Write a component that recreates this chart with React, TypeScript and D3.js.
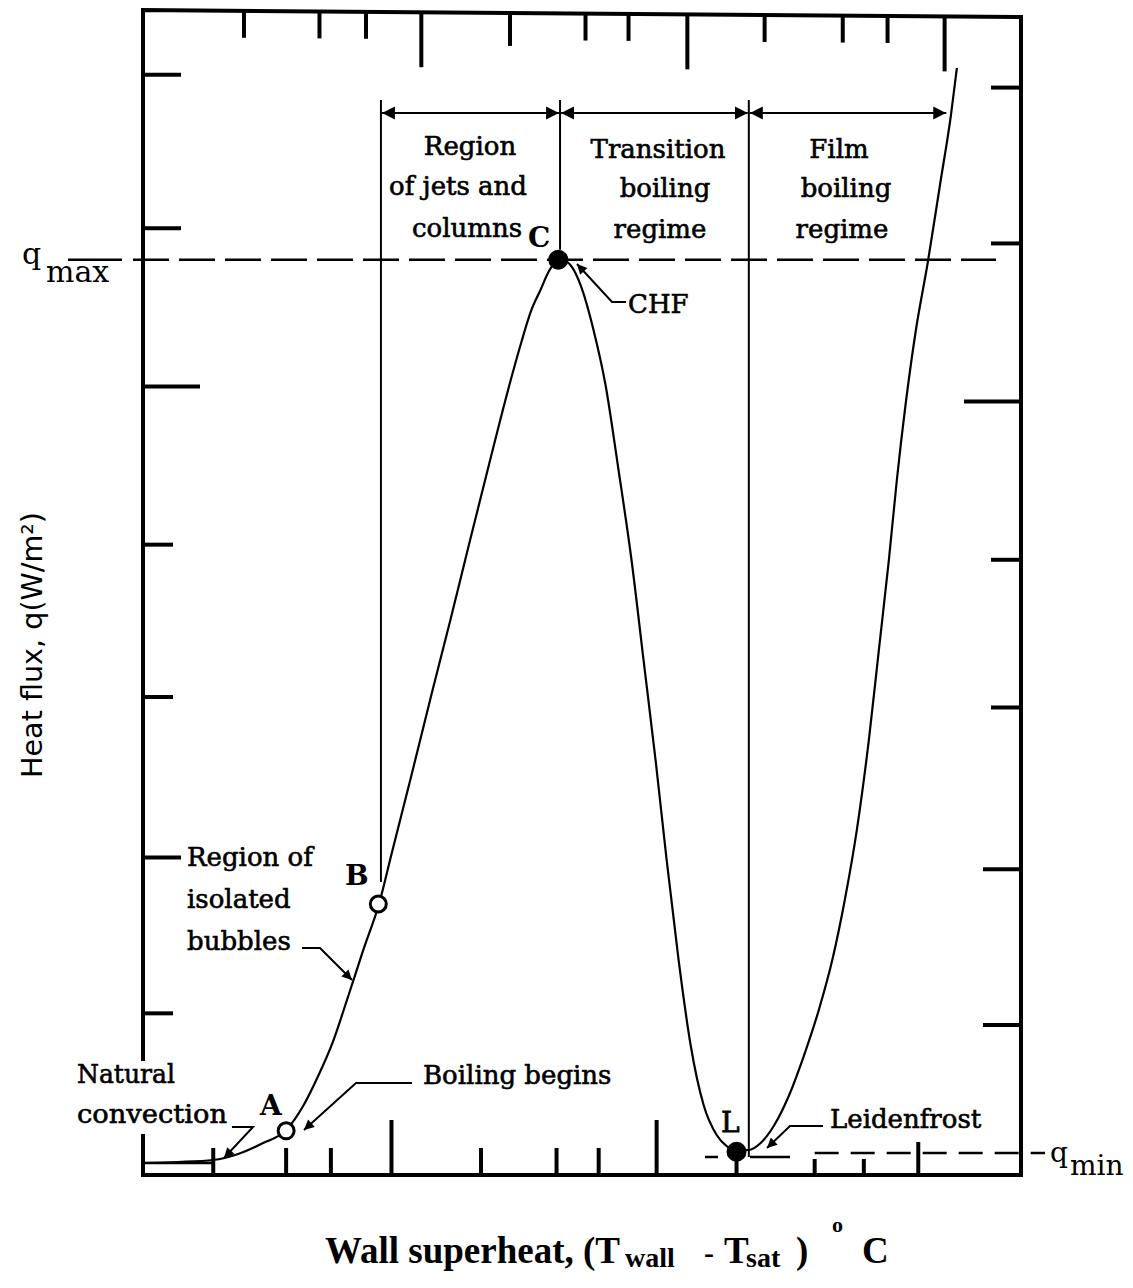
import React from 'react';
import * as d3 from 'd3';

// ---- data (x: wall superheat, arbitrary 0-100; y: heat flux, arbitrary 0-100) ----
const curveX = [0, 3.99, 7.98, 10.83, 13.68, 16.31, 18.24, 19.95, 21.66, 23.38, 25.09, 26.91, 28.28, 30.44, 32.84, 35.01, 37.17, 39.68, 41.73, 43.10, 44.24, 45.27, 46.18, 46.87, 47.43, 48.12, 48.92, 49.83, 51.31, 52.68, 54.16, 55.64, 57.01, 58.38, 59.64, 61.00, 62.37, 63.85, 65.34, 66.48, 67.50, 68.99, 70.35, 71.84, 73.55, 75.26, 76.97, 78.56, 79.93, 81.30, 82.67, 83.81, 84.95, 85.86, 86.89, 88.03, 89.39, 90.77, 92.02, 92.70];
const curveY = [1.03, 1.12, 1.29, 1.81, 2.75, 3.87, 5.93, 8.51, 11.52, 15.39, 19.35, 23.39, 27.52, 33.96, 41.27, 47.72, 54.34, 61.91, 67.93, 71.63, 74.38, 76.10, 77.64, 78.42, 78.68, 78.59, 77.99, 76.53, 72.66, 67.93, 60.62, 52.88, 44.28, 35.68, 27.09, 18.49, 11.18, 6.02, 3.44, 2.49, 2.15, 2.15, 2.75, 4.21, 6.79, 10.23, 14.19, 18.66, 23.65, 29.66, 37.40, 45.14, 52.88, 59.76, 66.47, 72.66, 78.50, 85.12, 91.14, 95.19];

const pointLabels = ['A', 'B', 'C', 'L'];
const pointX = [16.3, 26.8, 47.3, 67.6];
const pointY = [3.8, 23.3, 78.7, 2.0];
const pointFilled = [false, false, true, true];

const regionBounds = [27.1, 47.5, 69.0, 91.6];
const qMax = 78.7;
const qMin = 1.72;

const topTicks = [11.5, 20.1, 25.4, 31.7, 41.8, 50.4, 55.3, 62.0, 70.8, 79.7, 84.8, 91.3];
const topTickKinds = ['s', 's', 's', 'l', 'm', 's', 's', 'l', 's', 's', 's', 'l'];
const bottomTicks = [8.0, 16.3, 21.4, 28.3, 38.5, 47.1, 51.9, 58.5, 67.6, 76.5, 82.1, 88.3];
const bottomTickKinds = ['s', 's', 's', 'l', 's', 's', 's', 'l', 's', 'x', 'x', 'm'];
const leftTicks = [94.6, 81.4, 67.8, 54.2, 41.1, 27.3, 13.9];
const leftTickKinds = ['m', 'm', 'l', 's', 's', 'm', 's'];
const rightTicks = [93.5, 80.1, 66.5, 52.9, 40.2, 26.3, 12.9];
const rightTickKinds = ['s', 's', 'l', 's', 's', 'm', 'm'];

const X0 = 143, X1 = 1021, Y0 = 1175, Y1 = 12;

export default function App() {
  const x = d3.scaleLinear().domain([0, 100]).range([X0, X1]);
  const y = d3.scaleLinear().domain([0, 100]).range([Y0, Y1]);
  const pts: [number, number][] = curveX.map((v, i) => [v, curveY[i]]);
  const line = d3.line<[number, number]>().x(d => x(d[0])).y(d => y(d[1])).curve(d3.curveMonotoneX);
  const tickLen: Record<string, number> = { s: 27, m: 33, l: 55, x: 16 };
  const hLen: Record<string, number> = { s: 30, m: 38, l: 57, x: 16 };
  const serif = '"DejaVu Serif", serif';
  const bold = '"Liberation Serif", "Times New Roman", serif';
  const arrowY = 113;
  const topY = (px: number) => 10 + 7 * (px - X0) / (X1 - X0);

  return (
    <svg width={1133} height={1288} style={{ position: 'absolute', left: 0, top: 0, background: '#fff' }}>
      <defs>
        <marker id="ah" viewBox="0 0 10 10" refX="10" refY="5" markerWidth="13" markerHeight="15" markerUnits="userSpaceOnUse" orient="auto-start-reverse">
          <path d="M0,0 L10,5 L0,10 Z" fill="#000" />
        </marker>
        <marker id="la" viewBox="0 0 10 10" refX="10" refY="5" markerWidth="12" markerHeight="10" markerUnits="userSpaceOnUse" orient="auto">
          <path d="M0,0 L10,5 L0,10 Z" fill="#000" />
        </marker>
      </defs>
      <rect x={0} y={0} width={1133} height={1288} fill="#fff" />

      {/* frame */}
      <g stroke="#000" strokeWidth={4} fill="none">
        <path d={`M${X0},1061 L${X0},10 L${X1},17 L${X1},${Y0} L${X0},${Y0} L${X0},1134`} />
      </g>

      {/* ticks */}
      <g stroke="#000" strokeWidth={4}>
        {topTicks.map((t, i) => (
          <line key={'t' + i} x1={x(t)} x2={x(t)} y1={topY(x(t))} y2={topY(x(t)) + tickLen[topTickKinds[i]]} />
        ))}
        {bottomTicks.map((t, i) => (
          <line key={'b' + i} x1={x(t)} x2={x(t)} y1={Y0} y2={Y0 - tickLen[bottomTickKinds[i]]} />
        ))}
        {leftTicks.map((t, i) => (
          <line key={'l' + i} x1={X0} x2={X0 + hLen[leftTickKinds[i]]} y1={y(t)} y2={y(t)} />
        ))}
        {rightTicks.map((t, i) => (
          <line key={'r' + i} x1={X1} x2={X1 - hLen[rightTickKinds[i]]} y1={y(t)} y2={y(t)} />
        ))}
      </g>

      {/* natural convection baseline segment */}
      <line x1={X0} x2={x(8.0)} y1={y(curveY[0])} y2={y(curveY[0])} stroke="#000" strokeWidth={2.5} />

      {/* q max / q min dashed lines */}
      <line x1={68} x2={122} y1={y(qMax)} y2={y(qMax)} stroke="#000" strokeWidth={2.5} />
      <line x1={133} x2={996} y1={y(qMax)} y2={y(qMax)} stroke="#000" strokeWidth={2.5} strokeDasharray="36 10" />
      <line x1={705} x2={718} y1={y(qMin) + 2} y2={y(qMin) + 2} stroke="#000" strokeWidth={2.5} />
      <line x1={750} x2={790} y1={y(qMin) + 2} y2={y(qMin) + 2} stroke="#000" strokeWidth={2.5} />
      <line x1={x(76.5)} x2={1045} y1={y(qMin) - 2} y2={y(qMin) - 2} stroke="#000" strokeWidth={2.5} strokeDasharray="24 12" />

      {/* region separators */}
      <g stroke="#000" strokeWidth={2}>
        <line x1={x(regionBounds[0])} x2={x(regionBounds[0])} y1={100} y2={y(pointY[1]) - 22} />
        <line x1={x(regionBounds[1])} x2={x(regionBounds[1])} y1={100} y2={y(qMax) - 10} />
        <line x1={x(regionBounds[2])} x2={x(regionBounds[2])} y1={100} y2={y(qMin) + 2} />
      </g>
      <g stroke="#000" strokeWidth={2}>
        {[0, 1, 2].map(i => (
          <line key={'ra' + i} x1={x(regionBounds[i]) + 1} x2={x(regionBounds[i + 1]) - 1} y1={arrowY} y2={arrowY} markerStart="url(#ah)" markerEnd="url(#ah)" />
        ))}
      </g>

      {/* boiling curve */}
      <path d={line(pts) || ''} fill="none" stroke="#000" strokeWidth={2.2} />
      {/* L stem */}
      <line x1={x(pointX[3])} x2={x(pointX[3])} y1={y(pointY[3])} y2={Y0} stroke="#000" strokeWidth={3} />

      {/* points */}
      {pointX.map((px, i) => (
        <circle key={'p' + i} cx={x(px)} cy={y(pointY[i])} r={pointFilled[i] ? 8.5 : 8} fill={pointFilled[i] ? '#000' : '#fff'} stroke="#000" strokeWidth={3} />
      ))}

      {/* leaders */}
      <g stroke="#000" strokeWidth={2} fill="none">
        <polyline points="232,1127 253,1127 224,1158" markerEnd="url(#la)" />
        <polyline points="412,1083 356,1083 304,1130" markerEnd="url(#la)" />
        <polyline points="302,948 320,948 352,980" markerEnd="url(#la)" />
        <polyline points="626,302 612,302 577,264" markerEnd="url(#la)" />
        <polyline points="823,1126 790,1126 767,1148" markerEnd="url(#la)" />
      </g>

      {/* region labels */}
      <g fontFamily={serif} fontSize={26} fill="#000" stroke="#000" strokeWidth={0.6} textAnchor="middle">
        <text x={470} y={155}>Region</text>
        <text x={458} y={195}>of jets and</text>
        <text x={467} y={237}>columns</text>
        <text x={658} y={158}>Transition</text>
        <text x={665} y={197}>boiling</text>
        <text x={660} y={238}>regime</text>
        <text x={839} y={158}>Film</text>
        <text x={846} y={197}>boiling</text>
        <text x={842} y={238}>regime</text>
      </g>

      {/* point letters */}
      <g fontFamily={serif} fontSize={28} fill="#000" fontWeight="bold">
        <text x={528} y={247}>{pointLabels[2]}</text>
        <text x={345} y={885}>{pointLabels[1]}</text>
        <text x={260} y={1115}>{pointLabels[0]}</text>
        <text x={721} y={1132} fontWeight="normal" stroke="#000" strokeWidth={0.8}>{pointLabels[3]}</text>
      </g>

      {/* annotations */}
      <g fontFamily={serif} fontSize={26} fill="#000" stroke="#000" strokeWidth={0.6}>
        <text x={628} y={313}>CHF</text>
        <text x={187} y={866}>Region of</text>
        <text x={187} y={908}>isolated</text>
        <text x={187} y={950}>bubbles</text>
        <text x={77} y={1083} textLength={98} lengthAdjust="spacingAndGlyphs">Natural</text>
        <text x={77} y={1123} textLength={150} lengthAdjust="spacingAndGlyphs">convection</text>
        <text x={423} y={1084}>Boiling begins</text>
        <text x={830} y={1128}>Leidenfrost</text>
      </g>

      {/* q max / q min labels */}
      <g fontFamily={serif} fill="#000">
        <text x={22} y={264} fontSize={30}>q</text>
        <text x={46} y={282} fontSize={30}>max</text>
        <text x={1050} y={1162} fontSize={28}>q</text>
        <text x={1070} y={1175} fontSize={28}>min</text>
      </g>

      {/* axis titles */}
      <text transform="translate(42,778) rotate(-90)" fontFamily='"DejaVu Sans", sans-serif' fontSize={28} textLength={266} lengthAdjust="spacingAndGlyphs" fill="#000">Heat flux, q(W/m²)</text>
      <g fontFamily={bold} fontWeight="bold" fill="#000">
        <text x={325} y={1263} fontSize={37}>Wall superheat, (T</text>
        <text x={625} y={1267} fontSize={28}>wall</text>
        <text x={704} y={1263} fontSize={30}>-</text>
        <text x={724} y={1263} fontSize={37}>T</text>
        <text x={746} y={1267} fontSize={28}>sat</text>
        <text x={796} y={1263} fontSize={37}>)</text>
        <text x={832} y={1232} fontSize={22}>o</text>
        <text x={862} y={1263} fontSize={37}>C</text>
      </g>
    </svg>
  );
}
